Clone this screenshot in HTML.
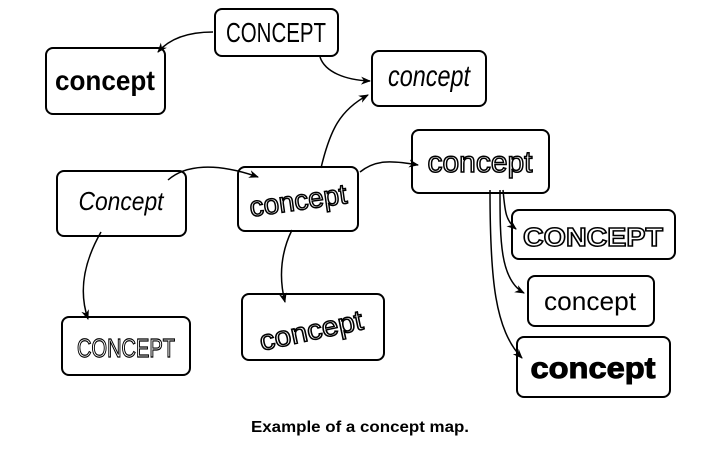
<!DOCTYPE html>
<html><head><meta charset="utf-8"><style>
html,body{margin:0;padding:0;background:#fff;width:713px;height:451px;overflow:hidden}
svg{display:block}
text{font-family:"Liberation Sans",sans-serif}
</style></head><body>
<svg width="713" height="451" viewBox="0 0 713 451">
<defs><marker id="a" markerWidth="10" markerHeight="8" refX="9" refY="4" orient="auto" markerUnits="userSpaceOnUse"><path d="M0,0 L10,4 L0,8 L3,4 Z" fill="#000"/></marker></defs>
<g fill="#fff" stroke="#000" stroke-width="2">
<rect x="215" y="9" width="123" height="47" rx="7"/>
<rect x="46" y="48" width="119" height="66" rx="7"/>
<rect x="372" y="51" width="114" height="55" rx="7"/>
<rect x="412" y="130" width="137" height="63" rx="7"/>
<rect x="57" y="171" width="129" height="65" rx="7"/>
<rect x="238" y="167" width="120" height="64" rx="7"/>
<rect x="512" y="210" width="163" height="49" rx="7"/>
<rect x="528" y="276" width="126" height="50" rx="7"/>
<rect x="517" y="337" width="153" height="60" rx="7"/>
<rect x="62" y="317" width="128" height="58" rx="7"/>
<rect x="242" y="294" width="142" height="66" rx="7"/>
</g>
<g fill="none" stroke="#000" stroke-width="1.5" marker-end="url(#a)">
<path d="M213,32 C190,32 170,38 158,52"/>
<path d="M320,57 C325,72 345,80 370,81"/>
<path d="M321,168 C330,130 340,110 368,95"/>
<path d="M168,180 C185,165 215,162 258,177"/>
<path d="M360,172 C375,160 390,160 418,165"/>
<path d="M101,232 C85,260 78,290 88,319"/>
<path d="M292,230 C282,250 278,275 285,302"/>
<path d="M503,190 C505,210 505,220 516,229"/>
<path d="M500,190 C500,240 500,280 524,293"/>
<path d="M490,190 C490,280 495,330 522,358"/>
</g>
<g text-anchor="middle" fill="#000">
<text x="276" y="42" font-size="28" font-family="Liberation Sans Narrow,Liberation Sans" textLength="100" lengthAdjust="spacingAndGlyphs">CONCEPT</text>
<text x="105" y="90" font-size="28" font-weight="bold" font-family="Liberation Serif" textLength="100" lengthAdjust="spacingAndGlyphs">concept</text>
<text x="429" y="86" font-size="30" font-style="italic" font-family="Liberation Serif" textLength="82" lengthAdjust="spacingAndGlyphs">concept</text>
<text x="480" y="172" font-size="30" fill="#fff" stroke="#000" stroke-width="1.5" textLength="105" lengthAdjust="spacingAndGlyphs">concept</text>
<text x="121" y="210" font-size="26" font-style="italic" font-family="Liberation Serif" textLength="85" lengthAdjust="spacingAndGlyphs">Concept</text>
<text x="298" y="210" font-size="28" fill="#fff" stroke="#000" stroke-width="1.5" textLength="98" lengthAdjust="spacingAndGlyphs" transform="rotate(-8 298 200)">concept</text>
<text x="593" y="246" font-size="26" font-weight="bold" fill="#fff" stroke="#000" stroke-width="1.5" textLength="140" lengthAdjust="spacingAndGlyphs">CONCEPT</text>
<text x="590" y="310" font-size="26" font-family="Liberation Sans Narrow,Liberation Sans" textLength="92" lengthAdjust="spacingAndGlyphs">concept</text>
<text x="593" y="378" font-size="30" font-weight="bold" stroke="#000" stroke-width="1" textLength="125" lengthAdjust="spacingAndGlyphs">concept</text>
<text x="126" y="357" font-size="26" fill="#fff" stroke="#000" stroke-width="1.2" textLength="98" lengthAdjust="spacingAndGlyphs">CONCEPT</text>
<text x="311" y="340" font-size="28" fill="#fff" stroke="#000" stroke-width="1.5" textLength="105" lengthAdjust="spacingAndGlyphs" transform="rotate(-12 311 330)">concept</text>
<text x="360" y="432" font-size="16" font-weight="bold" textLength="218" lengthAdjust="spacingAndGlyphs">Example of a concept map.</text>
</g>
</svg>
</body></html>
